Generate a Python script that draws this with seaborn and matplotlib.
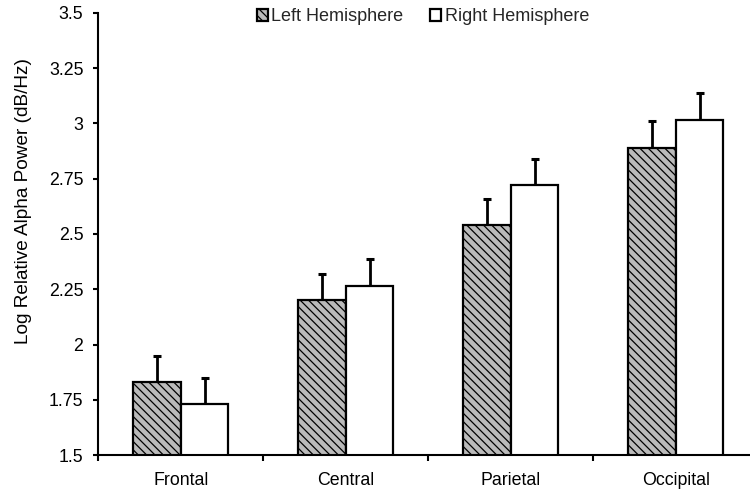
import matplotlib
matplotlib.use("Agg")
import matplotlib.pyplot as plt
import seaborn as sns
import pandas as pd
from matplotlib.patches import Patch

regions = ["Frontal", "Central", "Parietal", "Occipital"]
hemispheres = ["Left Hemisphere", "Right Hemisphere"]
left_vals = [1.83, 2.20, 2.54, 2.89]
right_vals = [1.73, 2.265, 2.72, 3.015]
left_err = [0.12, 0.12, 0.12, 0.12]
right_err = [0.12, 0.12, 0.12, 0.125]
ytick_vals = [1.5, 1.75, 2, 2.25, 2.5, 2.75, 3, 3.25, 3.5]
ytick_labels = ["1.5", "1.75", "2", "2.25", "2.5", "2.75", "3", "3.25", "3.5"]

df = pd.DataFrame({
    "Region": regions * 2,
    "Hemisphere": [hemispheres[0]] * 4 + [hemispheres[1]] * 4,
    "Power": left_vals + right_vals,
})
errs = [left_err, right_err]

sns.set_theme(style="white")
plt.rcParams["font.family"] = ["Liberation Sans", "DejaVu Sans"]
plt.rcParams["hatch.color"] = "#979797"
plt.rcParams["hatch.linewidth"] = 0.9

HATCH = "\\\\\\\\"
GRAY = "#bababa"

fig = plt.figure(figsize=(7.5, 4.9), dpi=100)
ax = fig.add_axes([0.1313, 0.0714, 0.88, 0.9021])

colors = {"Left Hemisphere": GRAY, "Right Hemisphere": "white"}
sns.barplot(data=df, x="Region", y="Power", hue="Hemisphere",
            order=regions, hue_order=hemispheres, palette=colors,
            width=0.576, errorbar=None, edgecolor="black", linewidth=1.6,
            legend=False, ax=ax)

bar_containers = list(ax.containers)
for i, cont in enumerate(bar_containers):
    xs, ys = [], []
    for p in cont.patches:
        if i == 0:
            p.set_hatch(HATCH)
        xs.append(p.get_x() + p.get_width() / 2)
        ys.append(p.get_height())
    ax.errorbar(xs, ys, yerr=[[0] * len(ys), errs[i]], fmt="none",
                ecolor="black", elinewidth=2.0, capsize=2.6, capthick=2.2,
                zorder=0.5)

ax.set_ylim(1.5, 3.5)
ax.set_xlim(-0.5, 3.5)
ax.set_yticks(ytick_vals)
ax.set_yticklabels(ytick_labels)
ax.set_xticks([0, 1, 2, 3])
ax.set_xticklabels(regions)
ax.set_xticks([-0.5, 0.5, 1.5, 2.5, 3.5], minor=True)
ax.tick_params(axis="x", which="major", length=0, pad=12, labelsize=12.8, colors="black")
ax.tick_params(axis="x", which="minor", length=4, width=1.5, direction="out", bottom=True, color="black")
ax.tick_params(axis="y", which="major", length=3.8, width=1.5, direction="out", left=True,
               labelsize=12.8, colors="black", pad=7)
ax.set_xlabel("")
ax.set_ylabel("Log Relative Alpha Power (dB/Hz)", fontsize=13.7, color="black")
ax.yaxis.set_label_coords(-0.1, 0.575)

for s in ["top", "right"]:
    ax.spines[s].set_visible(False)
for s in ["left", "bottom"]:
    ax.spines[s].set_color("black")
    ax.spines[s].set_linewidth(1.5)

handles = [Patch(facecolor=GRAY, edgecolor="black", hatch=HATCH, linewidth=1.6),
           Patch(facecolor="white", edgecolor="black", linewidth=1.6)]
fig.legend(handles, hemispheres, loc="center", bbox_to_anchor=(0.564, 0.966),
           ncol=2, frameon=False, fontsize=13, handlelength=0.6, handleheight=0.6,
           handletextpad=0.2, columnspacing=1.5, borderaxespad=0)

fig.savefig("out.png", dpi=100)
